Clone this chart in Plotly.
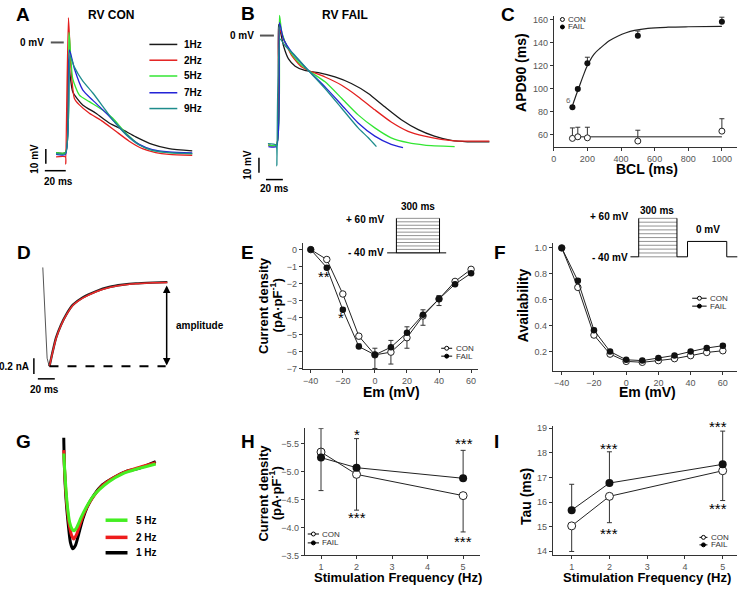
import plotly.graph_objects as go

W, H = 741, 591
FONT = "Arial, 'Liberation Sans', Helvetica, sans-serif"

# ================= DATA =================
# A: RV CON action potentials (time ms, potential mV)
A_labels = ["1Hz", "2Hz", "5Hz", "7Hz", "9Hz"]
A_1Hz_t = [-9.7, -0.3, 2.3, 7, 17, 30.3, 43.7, 57, 70.3, 87, 103.7, 127]
A_1Hz_v = [-74.4, -74.4, -11.1, -33.3, -42.2, -47.8, -54.4, -58.9, -63.8, -68.9, -71.8, -73.3]
A_2Hz_t = [-9.7, -0.3, 0, 2.7, 5.3, 8.7, 13.7, 23.7, 37, 50.3, 63.7, 77, 90.3, 103.7, 127]
A_2Hz_v = [-77.3, -77.3, -82.2, 16.7, -17.8, -37.8, -42.2, -47.8, -53.3, -60, -66.7, -71.8, -74.4, -75.6, -76.2]
A_5Hz_t = [-9.7, -0.3, 3.3, 7, 13.7, 23.7, 37, 47, 60.3, 73.7, 87, 103.7, 127]
A_5Hz_v = [-74.4, -74.4, 6.7, -24.4, -35.6, -40, -45.6, -51.1, -61.1, -68.9, -72.9, -74.4, -75.1]
A_7Hz_t = [-9.7, -0.3, 3.7, 8.7, 17, 27, 37, 47, 60.3, 73.7, 87, 103.7, 127]
A_7Hz_v = [-75.6, -75.6, -5.1, -17.8, -32, -39, -45.4, -52.2, -61.8, -68.9, -72.4, -74, -74.7]
A_9Hz_t = [-9.7, -0.3, 4.3, 8.7, 17, 27, 37, 47, 60.3, 73.7, 87, 103.7, 127]
A_9Hz_v = [-75.1, -75.1, -8.9, -16.7, -26, -34, -43, -52.2, -62.2, -69.3, -72.9, -74.4, -75.1]

# B: RV FAIL action potentials
B_1Hz_t = [-10, -0.5, 2, 7.8, 13.7, 21.6, 33, 49, 68.6, 88, 108, 127, 147, 167, 186, 206, 225, 251]
B_1Hz_v = [-74, -74, 7.6, -6.9, -15.8, -20.7, -23.6, -25.1, -28, -32.4, -39.1, -48, -56.9, -63.6, -68, -70.9, -71.8, -71.8]
B_2Hz_t = [-10, -0.5, 2.7, 9.8, 17.6, 29.4, 37.3, 56.9, 76.5, 96, 115.7, 135, 155, 174.5, 194, 214, 251]
B_2Hz_v = [-74, -74, 4.2, -4.7, -13.6, -21.3, -23.6, -28, -33.6, -41.3, -50.2, -58.4, -64.7, -68, -70.2, -71.3, -71.3]
B_5Hz_t = [-10, -0.5, 3.1, 5.9, 13.7, 25.5, 37.3, 56.9, 76.5, 96, 115.7, 135, 155, 174.5, 210]
B_5Hz_v = [-74, -74, 13.6, 2, -9.1, -18, -23.6, -31.3, -42.4, -53.6, -62.4, -69.1, -72.4, -74, -75.1]
B_7Hz_t = [-10, -0.5, 3.1, 7.8, 17.6, 37.3, 56.9, 76.5, 96, 115.7, 135, 149]
B_7Hz_v = [-75, -75, 8.7, -2.4, -11.3, -23.6, -34.7, -46.9, -59.1, -68, -73.6, -75.8]
B_9Hz_t = [-10.6, -1, 0, 3.9, 9.8, 21.6, 37.3, 56.9, 76.5, 96, 108, 117.6]
B_9Hz_v = [-73, -74, -88, -2.4, -6.9, -13.6, -23.6, -35.8, -49.1, -62.4, -69.1, -75.1]

# C: APD90 vs BCL
C_bcl = [111, 143, 200, 500, 1000]
C_con = [56.6, 58, 57.1, 54.3, 62.9]
C_con_err = [9.1, 8.3, 9.2, 9.4, 10.8]
C_fail = [83.7, 99.5, 122, 145.8, 158]
C_fail_err = [1.2, 1.5, 5.2, 4.2, 4.0]
C_fit_bcl = [109, 130, 150, 175, 200, 240, 280, 330, 380, 430, 480, 560, 680, 800, 1000]
C_fit_fail = [84, 93, 101, 111, 120, 130, 135.5, 141.5, 145.5, 148.5, 150.5, 152.3, 153.3, 153.7, 154]
C_fit_con_bcl = [109, 1000]
C_fit_con = [58, 58]

# D: current trace with exponential fit (time ms, current nA)
D_pre_t = [-7.9, -5.1, -2.8, -0.4, 0]
D_pre_i = [0.19, -0.46, -0.96, -1.06, -1.063]
D_rec_t = [0, 3.9, 7.8, 13.7, 19.6, 27.5, 39.2, 54.9, 70.6, 86.3, 102, 121.6, 139.2]
D_rec_i = [-1.063, -0.87, -0.70, -0.535, -0.41, -0.285, -0.19, -0.112, -0.058, -0.03, -0.012, -0.002, 0.004]
D_fit_t = [0, 3.9, 7.8, 13.7, 19.6, 27.5, 39.2, 54.9, 70.6, 86.3, 102, 121.6, 139.2]
D_fit_i = [-1.063, -0.875, -0.709, -0.542, -0.417, -0.292, -0.2, -0.117, -0.063, -0.033, -0.017, -0.004, 0]

# E: I-V relation
E_em = [-40, -30, -20, -10, 0, 10, 20, 30, 40, 50, 60]
E_con = [0, -0.58, -2.61, -5.09, -6.19, -6.03, -5.18, -3.9, -2.9, -1.87, -1.16]
E_con_err = [0, 0.05, 0.1, 0.15, 0.8, 0.7, 0.62, 0.55, 0.39, 0.1, 0.08]
E_fail = [0, -1.06, -3.54, -5.7, -6.19, -5.74, -4.89, -3.83, -2.9, -2.03, -1.39]
E_fail_err = [0, 0.08, 0.12, 0.15, 0.39, 0.4, 0.35, 0.29, 0.2, 0.1, 0.08]

# F: availability
F_em = [-40, -30, -20, -10, 0, 10, 20, 30, 40, 50, 60]
F_con = [1.0, 0.695, 0.327, 0.18, 0.124, 0.117, 0.13, 0.145, 0.168, 0.193, 0.206]
F_fail = [1.0, 0.746, 0.365, 0.2, 0.136, 0.13, 0.15, 0.17, 0.2, 0.227, 0.245]
F_err = [0, 0.015, 0.015, 0.012, 0.01, 0.01, 0.01, 0.01, 0.012, 0.012, 0.012]

# G: current traces at 1, 2, 5 Hz
G_labels = ["5 Hz", "2 Hz", "1 Hz"]
G_1Hz_t = [0, 0.67, 2.33, 4.67, 6.67, 9, 11.67, 15, 19, 24, 30.67, 39, 49, 62.33, 75.67, 92.33]
G_1Hz_i = [-0.007, -0.3, -0.633, -0.9, -1.067, -1.133, -1.1, -0.983, -0.833, -0.7, -0.583, -0.483, -0.417, -0.35, -0.317, -0.25]
G_2Hz_t = [0, 1, 3, 5.67, 8, 10, 13, 16.33, 20.67, 25.67, 32.33, 39, 49, 62.33, 75.67, 92.33]
G_2Hz_i = [-0.133, -0.367, -0.667, -0.9, -1.0, -1.033, -0.983, -0.883, -0.767, -0.667, -0.567, -0.49, -0.417, -0.35, -0.307, -0.26]
G_5Hz_t = [0, 1.33, 3.67, 6, 8.33, 10.33, 13, 17.33, 22.33, 29, 35.67, 45.67, 59, 72.33, 92.33]
G_5Hz_i = [-0.167, -0.4, -0.7, -0.867, -0.933, -0.95, -0.917, -0.817, -0.717, -0.607, -0.533, -0.45, -0.373, -0.327, -0.273]

# H: current density vs stimulation frequency
H_freq = [1, 2, 5]
H_con = [-5.35, -4.95, -4.57]
H_con_err = [0.69, 0.64, 0.65]
H_fail = [-5.25, -5.07, -4.88]
H_fail_err = [0.52, 0.52, 0.5]

# I: tau vs stimulation frequency
I_freq = [1, 2, 5]
I_con = [15.03, 16.23, 17.27]
I_con_err = [1.04, 1.07, 1.21]
I_fail = [15.67, 16.77, 17.53]
I_fail_err = [1.05, 1.27, 1.35]

# ================= HELPERS =================
shapes, annotations, traces = [], [], []
layout_axes = {}


def X(p):
    return p / W


def Y(p):
    return 1 - p / H


def axkeys(i):
    return ("xaxis" if i == 1 else f"xaxis{i}", "yaxis" if i == 1 else f"yaxis{i}",
            "x" if i == 1 else f"x{i}", "y" if i == 1 else f"y{i}")


def hidden_axes(i, xpx, ypx, xr, yr):
    kx, ky, rx, ry = axkeys(i)
    layout_axes[kx] = dict(domain=[X(xpx[0]), X(xpx[1])], range=xr, anchor=ry, visible=False)
    layout_axes[ky] = dict(domain=[Y(ypx[1]), Y(ypx[0])], range=yr, anchor=rx, visible=False)


def shown_axes(i, xpx, ypx, xr, yr, xticks, yticks, xfmt=None, yfmt=None):
    kx, ky, rx, ry = axkeys(i)
    common = dict(showline=True, linecolor="#333", linewidth=1, ticks="outside", ticklen=3,
                  tickwidth=1, tickcolor="#333", showgrid=False, zeroline=False,
                  tickfont=dict(size=9, color="#555", family=FONT))
    layout_axes[kx] = dict(domain=[X(xpx[0]), X(xpx[1])], range=xr, anchor=ry,
                           tickvals=xticks, tickformat=xfmt, **common)
    layout_axes[ky] = dict(domain=[Y(ypx[1]), Y(ypx[0])], range=yr, anchor=rx,
                           tickvals=yticks, tickformat=yfmt, **common)


def line_trace(i, x, y, color, width=1.3, shape="spline", smoothing=0.6):
    _, _, rx, ry = axkeys(i)
    traces.append(go.Scatter(x=x, y=y, xaxis=rx, yaxis=ry, mode="lines",
                             line=dict(color=color, width=width, shape=shape,
                                       smoothing=smoothing if shape == "spline" else None),
                             showlegend=False, hoverinfo="skip"))


def seg(x0, y0, x1, y1, color="black", width=1, dash=None):
    shapes.append(dict(type="line", xref="paper", yref="paper", x0=X(x0), y0=Y(y0),
                       x1=X(x1), y1=Y(y1), line=dict(color=color, width=width, dash=dash)))


def circ(cx, cy, r, fill):
    shapes.append(dict(type="circle", xref="paper", yref="paper", x0=X(cx - r), x1=X(cx + r),
                       y0=Y(cy + r), y1=Y(cy - r), line=dict(color="black", width=1),
                       fillcolor=fill))


def text(x, y, s, size=10, bold=True, xa="center", ya="middle", angle=0, color="black"):
    annotations.append(dict(x=X(x), y=Y(y), xref="paper", yref="paper",
                            text=f"<b>{s}</b>" if bold else s, showarrow=False,
                            xanchor=xa, yanchor=ya, textangle=angle,
                            font=dict(size=size, color=color, family=FONT)))


def group_traces(i, xs, con, con_plus, con_minus, fail, fail_plus, fail_minus, msize, lines=True):
    _, _, rx, ry = axkeys(i)
    mode = "lines+markers" if lines else "markers"
    traces.append(go.Scatter(x=xs, y=con, xaxis=rx, yaxis=ry, mode=mode,
                             line=dict(color="#222", width=1),
                             marker=dict(size=msize, color="white", line=dict(color="#222", width=1)),
                             error_y=dict(type="data", array=con_plus, arrayminus=con_minus,
                                          symmetric=False, width=2.5, thickness=1, color="#333"),
                             showlegend=False, hoverinfo="skip"))
    traces.append(go.Scatter(x=xs, y=fail, xaxis=rx, yaxis=ry, mode=mode,
                             line=dict(color="#222", width=1), marker=dict(size=msize, color="#111"),
                             error_y=dict(type="data", array=fail_plus, arrayminus=fail_minus,
                                          symmetric=False, width=2.5, thickness=1, color="#333"),
                             showlegend=False, hoverinfo="skip"))


def mini_legend(x0, x1, y_con, y_fail, tx):
    cx = (x0 + x1) / 2
    for yy, fill, lab in [(y_con, "white", "CON"), (y_fail, "black", "FAIL")]:
        seg(x0, yy, x1, yy)
        circ(cx, yy, 2.0, fill)
        text(tx, yy, lab, size=8, bold=False, xa="left", color="#333")


BLACK, RED, GREEN, BLUE, TEAL = "#1a1a1a", "#e3201f", "#33e633", "#2424d6", "#1e8c8c"

# ================= PANEL A =================
hidden_axes(1, (30, 205), (8, 192), [-33, 142], [-101.3, 21.3])
for t, v, c in [(A_1Hz_t, A_1Hz_v, BLACK), (A_2Hz_t, A_2Hz_v, RED), (A_5Hz_t, A_5Hz_v, GREEN),
                (A_7Hz_t, A_7Hz_v, BLUE), (A_9Hz_t, A_9Hz_v, TEAL)]:
    line_trace(1, t, v, c)
text(20, 12, "A", size=19)
text(108, 12, "RV CON", size=12)
text(43, 40, "0 mV", xa="right")
seg(48, 40, 61, 40, color="#555", width=2)
for k, (lab, c) in enumerate(zip(A_labels, [BLACK, RED, GREEN, BLUE, TEAL])):
    yy = [42, 58, 74, 91, 107][k]
    seg(147, yy, 175, yy, color=c, width=1.5)
    text(180, yy, lab, xa="left")
seg(43, 148, 43, 163, width=1.5)
seg(42, 170, 63, 170, width=1.5)
text(32, 158, "10 mV", angle=-90)
text(56, 181, "20 ms")

# ================= PANEL B =================
hidden_axes(2, (250, 500), (5, 195), [-29.4, 264.7], [-108, 18.67])
for t, v, c in [(B_1Hz_t, B_1Hz_v, BLACK), (B_2Hz_t, B_2Hz_v, RED), (B_5Hz_t, B_5Hz_v, GREEN),
                (B_7Hz_t, B_7Hz_v, BLUE), (B_9Hz_t, B_9Hz_v, TEAL)]:
    line_trace(2, t, v, c)
text(246, 11, "B", size=19)
text(343, 12, "RV FAIL", size=12)
text(254, 33, "0 mV", xa="right")
seg(258, 33, 272, 33, color="#555", width=2)
seg(257, 157, 257, 172, width=1.5)
seg(264, 179, 281, 179, width=1.5)
text(246, 164, "10 mV", angle=-90)
text(273, 188, "20 ms")

# ================= PANEL C =================
shown_axes(3, (553, 737), (13, 146), [0, 1090], [49.1, 163.2],
           [0, 200, 400, 600, 800, 1000], [60, 80, 100, 120, 140, 160])
traces.append(go.Scatter(x=C_fit_bcl, y=C_fit_fail, xaxis="x3", yaxis="y3", mode="lines",
                         line=dict(color="#222", width=1.2, shape="spline"),
                         showlegend=False, hoverinfo="skip"))
traces.append(go.Scatter(x=C_fit_con_bcl, y=C_fit_con, xaxis="x3", yaxis="y3", mode="lines",
                         line=dict(color="#666", width=1.5), showlegend=False, hoverinfo="skip"))
group_traces(3, C_bcl, C_con, C_con_err, [0] * 5, C_fail, C_fail_err, [0] * 5, 6, lines=False)
text(507, 12, "C", size=19)
text(520, 70, "APD90 (ms)", size=14, angle=-90)
text(647, 168, "BCL (ms)", size=14)
text(568, 99, "6", size=8, bold=False, color="#666")
circ(561.7, 16.7, 2.0, "white")
text(565.5, 16.7, "CON", size=8, bold=False, xa="left", color="#333")
circ(561.7, 24.3, 2.0, "black")
text(565.5, 24.3, "FAIL", size=8, bold=False, xa="left", color="#333")

# ================= PANEL D =================
hidden_axes(4, (0, 240), (240, 400), [-54.9, 227.4], [-1.459, 0.541])
line_trace(4, D_pre_t, D_pre_i, "#555", width=1, shape="linear")
line_trace(4, D_rec_t, D_rec_i, "#222", width=2.4)
line_trace(4, D_fit_t, D_fit_i, "#ee2a2a", width=1.5)
shapes.append(dict(type="line", xref="x4", yref="y4", x0=D_fit_t[0], x1=D_fit_t[-1] - 2,
                   y0=D_fit_i[0], y1=D_fit_i[0], line=dict(color="black", width=2, dash="dash")))
annotations.append(dict(x=D_fit_t[-1] - 0.8, y=D_fit_i[0] + 0.01, ax=D_fit_t[-1] - 0.8,
                        ay=D_fit_i[-1] - 0.02, xref="x4", yref="y4", axref="x4", ayref="y4",
                        text="", showarrow=True, arrowhead=2, arrowside="end+start",
                        arrowsize=1, arrowwidth=1.5, arrowcolor="black"))
text(21, 253, "D", size=19)
text(198, 327, "amplitude", xa="center")
seg(31, 360, 31, 376, width=1.5)
seg(35, 381, 52, 381, width=1.5)
text(28.5, 368, "0.2 nA", xa="right")
text(42, 392, "20 ms")

# ================= PANEL E =================
shown_axes(5, (301, 477), (243, 371), [-44.97, 64.35], [-7.02, 0.406],
           [-40, -20, 0, 20, 40, 60], [0, -1, -2, -3, -4, -5, -6, -7])
group_traces(5, E_em, E_con, [0] * 11, E_con_err, E_fail, E_fail_err, [0] * 11, 6.5)
text(245, 253, "E", size=19)
text(261.5, 306.7, "Current density", size=13, angle=-90)
text(274, 306.7, "(pA·pF<sup>-1</sup>)", size=13, angle=-90)
text(390, 394, "Em (mV)", size=14)
text(322, 277, "**", size=15, bold=False)
text(339, 319, "*", size=15, bold=False)
mini_legend(440, 451, 350, 358, 452.5)
# protocol inset
for k in range(11):
    yy = 218.3 + k * 3.5
    seg(395, yy, 438.3, yy, color="#777", width=0.8)
seg(395, 218.3, 395, 253.3)
seg(438.3, 218.3, 438.3, 253.3)
seg(385.7, 253.3, 445, 253.3)
text(416.7, 206.7, "300 ms")
text(385, 219, "+ 60 mV", xa="right")
text(385, 253.3, "- 40 mV", xa="right")

# ================= PANEL F =================
shown_axes(6, (552, 737), (243, 373), [-45.57, 68.8], [0.05, 1.04],
           [-40, -20, 0, 20, 40, 60], [0.2, 0.4, 0.6, 0.8, 1.0], yfmt=".1f")
group_traces(6, F_em, F_con, [0] * 11, F_err, F_fail, F_err, [0] * 11, 6.5)
text(499, 253, "F", size=19)
text(521.7, 306.7, "Availability", size=14, angle=-90)
text(646.7, 394, "Em (mV)", size=14)
mini_legend(692, 706.5, 299.3, 307.3, 708)
for k in range(11):
    yy = 218.3 + k * 3.9
    seg(638.3, yy, 676.7, yy, color="#777", width=0.8)
seg(638.3, 218.3, 638.3, 257.3)
seg(676.7, 218.3, 676.7, 257.3)
seg(630, 257.3, 638.3, 257.3)
seg(676.7, 257.3, 687.3, 257.3)
seg(687.3, 257.3, 687.3, 241.7)
seg(687.3, 241.7, 726.7, 241.7)
seg(726.7, 241.7, 726.7, 257.3)
seg(726.7, 257.3, 737.3, 257.3)
text(657, 210, "300 ms")
text(630, 216.7, "+ 60 mV", xa="right")
text(708.3, 229.3, "0 mV")
text(630, 258, "- 40 mV", xa="right")

# ================= PANEL G =================
hidden_axes(7, (50, 170), (430, 570), [-11, 109], [-1.3, 0.1])
line_trace(7, G_1Hz_t, G_1Hz_i, "#000", width=3)
line_trace(7, G_2Hz_t, G_2Hz_i, "#ee1c1c", width=3)
line_trace(7, G_5Hz_t, G_5Hz_i, "#44ee22", width=3)
text(21, 445, "G", size=19)
for lab, c, yy in zip(G_labels, ["#44ee22", "#ee1c1c", "#000"], [524.3, 541.7, 557.3]):
    seg(103, yy, 125, yy, color=c, width=3.5)
    text(131.7, yy, lab, xa="left")

# ================= PANEL H =================
shown_axes(8, (303, 479), (431, 560), [0.543, 5.477], [-3.5, -5.777],
           [1, 2, 3, 4, 5], [-5.5, -5.0, -4.5, -4.0, -3.5], yfmt=".1f")
group_traces(8, H_freq, H_con, H_con_err, [0] * 3, H_fail, [0] * 3, H_fail_err, 8)
text(246, 445, "H", size=19)
text(261.7, 496.7, "Current density", size=13, angle=-90)
text(273.5, 496.7, "(pA·pF<sup>-1</sup>)", size=13, angle=-90)
text(396.7, 582, "Stimulation Frequency (Hz)", size=13)
text(355, 437, "*", size=15, bold=False)
text(462.7, 447, "***", size=15, bold=False)
text(355, 522, "***", size=15, bold=False)
text(461.7, 545.5, "***", size=15, bold=False)
mini_legend(306, 317.3, 538.3, 547.3, 318.7)

# ================= PANEL I =================
shown_axes(9, (552, 737), (429, 560), [0.499, 5.38], [13.83, 19.08],
           [1, 2, 3, 4, 5], [14, 15, 16, 17, 18, 19])
group_traces(9, I_freq, I_con, [0] * 3, I_con_err, I_fail, I_fail_err, [0] * 3, 8)
text(496, 445, "I", size=19)
text(525, 500, "Tau (ms)", size=14, angle=-90)
text(646.7, 582, "Stimulation Frequency (Hz)", size=13)
text(608.3, 451.5, "***", size=15, bold=False)
text(608.3, 538, "***", size=15, bold=False)
text(718.3, 429.5, "***", size=15, bold=False)
text(718.3, 512, "***", size=15, bold=False)
mini_legend(699.3, 707.3, 541.7, 549.3, 708.7)

# ================= FIGURE =================
fig = go.Figure(data=traces)
fig.update_layout(width=W, height=H, margin=dict(l=0, r=0, t=0, b=0), autosize=False,
                  paper_bgcolor="white", plot_bgcolor="rgba(0,0,0,0)",
                  font=dict(family=FONT, color="black"), showlegend=False,
                  shapes=shapes, annotations=annotations, **layout_axes)
fig.write_html("out.html", config={"displayModeBar": False},
               post_script="document.body.style.margin='0px';")
